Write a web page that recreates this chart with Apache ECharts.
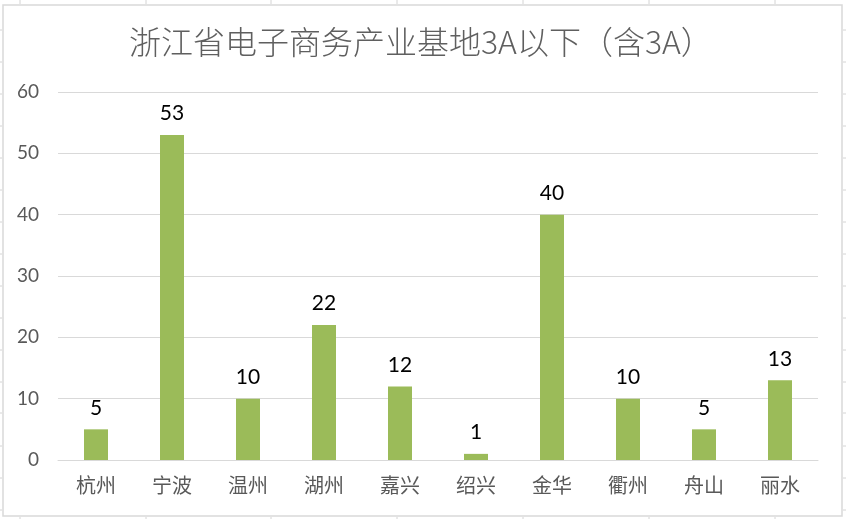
<!DOCTYPE html>
<html>
<head>
<meta charset="utf-8">
<script src="https://cdn.jsdelivr.net/npm/echarts@6/dist/echarts.min.js"></script>
<style>
html,body{margin:0;padding:0;background:#fff;}
#c{width:846px;height:519px;}
</style>
</head>
<body>
<div id="c"></div>
<script>
const titleText = '浙江省电子商务产业基地3A以下（含3A）';
const categories = ['杭州','宁波','温州','湖州','嘉兴','绍兴','金华','衢州','舟山','丽水'];
const values = [5, 53, 10, 22, 12, 1, 40, 10, 5, 13];
const yTicks = [0, 10, 20, 30, 40, 50, 60];

// decorative spreadsheet cell lines outside the chart frame
const colX = [20, 146, 271, 397, 523, 649, 775];
const rowY = [30, 62, 94, 126, 158, 190, 222, 254, 286, 318, 350, 382, 413, 446, 478, 510];
const deco = [];
colX.forEach(x => {
  deco.push({type:'line', shape:{x1:x, y1:0, x2:x, y2:4}, style:{stroke:'#d4d4d4', lineWidth:1}, silent:true});
  deco.push({type:'line', shape:{x1:x, y1:517, x2:x, y2:519}, style:{stroke:'#d4d4d4', lineWidth:1}, silent:true});
});
rowY.forEach(y => {
  deco.push({type:'line', shape:{x1:843, y1:y, x2:846, y2:y}, style:{stroke:'#d4d4d4', lineWidth:1}, silent:true});
  deco.push({type:'line', shape:{x1:0, y1:y, x2:2, y2:y}, style:{stroke:'#d4d4d4', lineWidth:1}, silent:true});
});
deco.push({type:'rect', shape:{x:3, y:5, width:839, height:511}, style:{fill:null, stroke:'#d9d9d9', lineWidth:1.5}, silent:true, z:-1});

const chart = echarts.init(document.getElementById('c'), null, {renderer:'canvas'});
chart.setOption({
  backgroundColor:'#ffffff',
  animation:false,
  title:{
    text:titleText,
    left:124, top:21,
    textStyle:{fontFamily:'"Noto Sans CJK SC", sans-serif', fontSize:32, fontWeight:300, color:'#5f5f5f'}
  },
  graphic: deco,
  grid:{left:58, right:28, top:92, bottom:59, containLabel:false},
  xAxis:{
    type:'category',
    data:categories,
    axisLine:{show:true, lineStyle:{color:'#d9d9d9', width:1}},
    axisTick:{show:false},
    axisLabel:{margin:15, fontSize:20, color:'#595959', fontFamily:'"Noto Sans CJK SC", sans-serif'}
  },
  yAxis:{
    type:'value',
    min:yTicks[0], max:yTicks[yTicks.length-1], interval:10,
    axisLine:{show:false},
    axisTick:{show:false},
    splitLine:{lineStyle:{color:'#d9d9d9', width:1}},
    axisLabel:{margin:19, fontSize:19, color:'#595959', fontFamily:'Lato, "Liberation Sans", sans-serif'}
  },
  series:[{
    type:'bar',
    data:values,
    barWidth:24,
    itemStyle:{color:'#9bbb59'},
    label:{show:true, position:'top', distance:11, fontSize:21, color:'#000000', fontFamily:'Lato, "Liberation Sans", sans-serif'}
  }]
});
</script>
</body>
</html>
